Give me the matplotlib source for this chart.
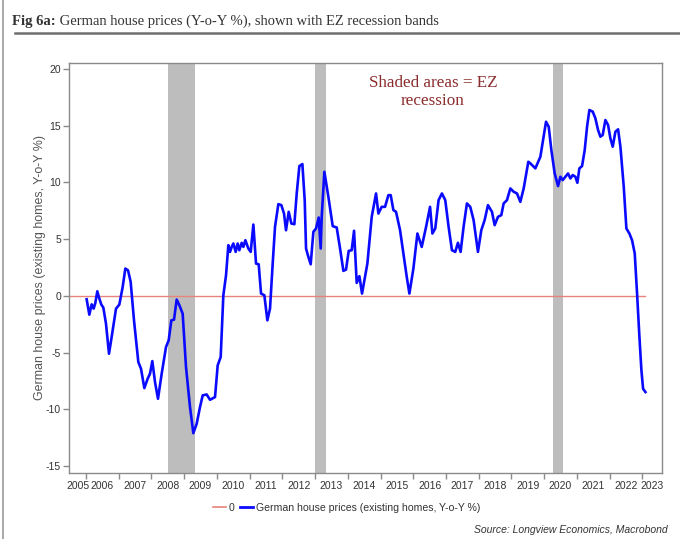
import matplotlib
matplotlib.use("Agg")
import matplotlib.pyplot as plt
from matplotlib.lines import Line2D

# ---------------- data ----------------
dates = [
    2006.020, 2006.102, 2006.173, 2006.234, 2006.285, 2006.346, 2006.408, 2006.469, 2006.530, 2006.611,
    2006.703, 2006.784, 2006.917, 2007.019, 2007.121, 2007.202, 2007.284, 2007.365, 2007.467, 2007.599,
    2007.681, 2007.783, 2007.885, 2007.956, 2008.027, 2008.109, 2008.200, 2008.313, 2008.445, 2008.527,
    2008.608, 2008.690, 2008.771, 2008.853, 2008.954, 2009.056, 2009.178, 2009.280, 2009.382, 2009.484,
    2009.566, 2009.688, 2009.790, 2009.943, 2010.024, 2010.116, 2010.197, 2010.279, 2010.350, 2010.401,
    2010.452, 2010.503, 2010.574, 2010.635, 2010.686, 2010.758, 2010.809, 2010.870, 2010.961, 2011.033,
    2011.114, 2011.196, 2011.277, 2011.349, 2011.450, 2011.542, 2011.623, 2011.705, 2011.776, 2011.878,
    2011.970, 2012.051, 2012.112, 2012.194, 2012.276, 2012.367, 2012.439, 2012.520, 2012.612, 2012.683,
    2012.724, 2012.795, 2012.866, 2012.948, 2013.029, 2013.111, 2013.172, 2013.203, 2013.284, 2013.406,
    2013.539, 2013.661, 2013.763, 2013.865, 2013.946, 2014.028, 2014.119, 2014.191, 2014.272, 2014.354,
    2014.435, 2014.598, 2014.731, 2014.863, 2014.935, 2015.036, 2015.138, 2015.240, 2015.311, 2015.393,
    2015.474, 2015.597, 2015.699, 2015.801, 2015.882, 2016.004, 2016.127, 2016.259, 2016.392, 2016.513,
    2016.585, 2016.672, 2016.774, 2016.876, 2016.978, 2017.080, 2017.182, 2017.283, 2017.365, 2017.447,
    2017.538, 2017.640, 2017.742, 2017.844, 2017.977, 2018.079, 2018.181, 2018.283, 2018.405, 2018.487,
    2018.589, 2018.691, 2018.762, 2018.864, 2018.966, 2019.068, 2019.170, 2019.272, 2019.374, 2019.516,
    2019.578, 2019.731, 2019.884, 2019.966, 2020.057, 2020.139, 2020.220, 2020.322, 2020.424, 2020.495,
    2020.567, 2020.648, 2020.730, 2020.801, 2020.872, 2020.954, 2021.015, 2021.076, 2021.158, 2021.239,
    2021.311, 2021.382, 2021.484, 2021.565, 2021.647, 2021.718, 2021.789, 2021.871, 2021.953, 2022.024,
    2022.095, 2022.177, 2022.259, 2022.330, 2022.432, 2022.513, 2022.605, 2022.686, 2022.768, 2022.839,
    2022.911, 2022.972, 2023.023, 2023.095,
]
house_prices_yoy = [
    -0.29, -1.65, -0.74, -1.12, -0.62, 0.41, -0.24, -0.76, -1.03, -2.44,
    -5.09, -3.62, -1.12, -0.76, 0.79, 2.41, 2.26, 1.24, -2.15, -5.82,
    -6.41, -8.12, -7.29, -6.85, -5.74, -7.59, -9.06, -6.85, -4.50, -3.91,
    -2.15, -2.09, -0.32, -0.82, -1.56, -6.26, -9.79, -12.09, -11.26, -9.79,
    -8.76, -8.68, -9.15, -8.91, -6.12, -5.38, 0.06, 1.82, 4.47, 3.88,
    4.32, 4.62, 3.88, 4.62, 4.03, 4.68, 4.32, 4.91, 4.18, 3.88,
    6.29, 2.85, 2.79, 0.21, 0.06, -2.15, -1.12, 2.85, 6.09, 8.09,
    8.00, 7.26, 5.79, 7.41, 6.38, 6.32, 9.03, 11.44, 11.62, 8.44,
    4.18, 3.44, 2.79, 5.65, 5.94, 6.91, 4.18, 6.97, 10.94, 8.74,
    6.15, 6.03, 4.18, 2.21, 2.32, 3.97, 4.03, 5.74, 1.15, 1.74,
    0.21, 2.85, 6.97, 9.03, 7.26, 7.85, 7.85, 8.88, 8.88, 7.56,
    7.41, 5.79, 3.74, 1.68, 0.21, 2.41, 5.50, 4.32, 6.09, 7.85,
    5.50, 5.94, 8.44, 9.03, 8.44, 6.09, 4.03, 3.88, 4.68, 3.88,
    6.09, 8.15, 7.85, 6.68, 3.88, 5.79, 6.68, 8.00, 7.41, 6.24,
    6.97, 7.12, 8.15, 8.44, 9.47, 9.18, 9.03, 8.29, 9.47, 11.82,
    11.68, 11.24, 12.26, 13.74, 15.35, 14.91, 12.85, 10.79, 9.68, 10.50,
    10.21, 10.50, 10.79, 10.35, 10.65, 10.50, 9.97, 11.24, 11.44, 12.85,
    14.91, 16.38, 16.24, 15.65, 14.62, 14.03, 14.18, 15.50, 15.06, 13.88,
    13.15, 14.47, 14.68, 13.15, 9.62, 5.94, 5.50, 4.91, 3.74, 0.21,
    -3.62, -6.56, -8.18, -8.47,
]
recession_starts = [2008.50, 2013.00, 2020.28]
recession_ends = [2009.33, 2013.33, 2020.59]
years = list(range(2005, 2024))
y_ticks = [-15, -10, -5, 0, 5, 10, 15, 20]

# ---------------- figure ----------------
W, H = 680, 539
fig = plt.figure(figsize=(W / 100, H / 100), dpi=100)
fig.patch.set_facecolor("white")

x0, x1 = 2005.49, 2023.61
ax = fig.add_axes([69.3 / W, 1 - 473 / H, (662.3 - 69.3) / W, (473 - 62.7) / H])
ax.set_xlim(x0, x1)
ax.set_ylim(-15.6, 20.55)

for s, e in zip(recession_starts, recession_ends):
    ax.axvspan(s, e, color="#bdbdbd", lw=0, zorder=1)

ax.plot([x0, dates[-1]], [0, 0], color="#e8827c", lw=1.0, zorder=2)
ax.plot(dates, house_prices_yoy, color="#0a0aff", lw=1.9, zorder=3,
        solid_joinstyle="round")

for sp in ax.spines.values():
    sp.set_color("#8a8a8a")
    sp.set_linewidth(1.0)

tick_font = dict(family="Liberation Sans", size=7.5)
ax.set_yticks(y_ticks)
ax.set_yticklabels([str(v) for v in y_ticks], color="#333333", **tick_font)
ax.tick_params(axis="y", direction="out", length=4, width=1, color="#8a8a8a", pad=2)

# major ticks at year boundaries, labels centred in each (visible) year
ax.set_xticks([y for y in years if x0 <= y <= x1])
ax.set_xticklabels([])
ax.tick_params(axis="x", which="major", direction="out", length=4, width=1, color="#8a8a8a")
centers = []
for y in years:
    a, b = max(y, x0), min(y + 1, x1)
    centers.append((a + b) / 2)
ax.set_xticks(centers, minor=True)
ax.set_xticklabels([str(y) for y in years], minor=True, color="#333333", **tick_font)
ax.tick_params(axis="x", which="minor", length=0, pad=6)

ax.set_ylabel("German house prices (existing homes, Y-o-Y %)", family="Liberation Sans",
              size=8.9, color="#555555", labelpad=0)

ax.text(2016.6, 19.45, "Shaded areas = EZ\nrecession", ha="center", va="top",
        family="Liberation Serif", size=12.3, color="#8b2c2c", linespacing=1.15, zorder=4)

# legend
handles = [Line2D([], [], color="#e8827c", lw=1.2),
           Line2D([], [], color="#0a0aff", lw=2.0)]
fig.legend(handles, ["0", "German house prices (existing homes, Y-o-Y %)"],
           loc="center", bbox_to_anchor=(0.51, 1 - 508 / H), ncol=2, frameon=False,
           prop=dict(family="Liberation Sans", size=7.6), handlelength=1.2,
           handletextpad=0.3, columnspacing=0.5, labelcolor="#333333")

fig.text(668 / W, 1 - 530 / H, "Source: Longview Economics, Macrobond", ha="right",
         va="center", family="Liberation Sans", style="italic", size=7.5, color="#333333")

# title
t1 = fig.text(12 / W, 1 - 25.5 / H, "Fig 6a:", ha="left", va="baseline",
              family="Liberation Serif", weight="bold", size=10.5, color="#333333")
plt.annotate(" German house prices (Y-o-Y %), shown with EZ recession bands",
             xy=(1, 0), xycoords=t1, va="bottom", ha="left",
             family="Liberation Serif", size=10.5, color="#333333",
             annotation_clip=False)
fig.add_artist(Line2D([15 / W, 1.0], [1 - 33 / H, 1 - 33 / H], color="#6e6e6e", lw=1.8))
fig.add_artist(Line2D([3 / W, 3 / W], [0, 1], color="#9a9a9a", lw=1.2))

fig.savefig("out.png", dpi=100, facecolor="white")
